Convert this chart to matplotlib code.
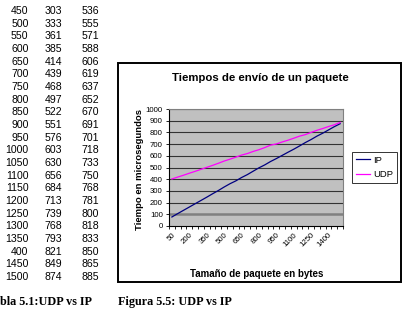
import numpy as np
import matplotlib.pyplot as plt
from matplotlib.patches import Rectangle

plt.rcParams['font.family'] = ['Liberation Sans', 'DejaVu Sans']

W, H = 407, 314

# chart data (packet size in bytes, time in microseconds)
sizes = [50, 100, 150, 200, 250, 300, 350, 400, 450, 500, 550, 600, 650, 700, 750,
         800, 850, 900, 950, 1000, 1050, 1100, 1150, 1200, 1250, 1300, 1350, 1400, 1450, 1500]
ip = [77, 106, 134, 162, 190, 218, 246, 275, 303, 333, 361, 385, 414, 439, 468,
      497, 522, 551, 576, 603, 630, 656, 684, 713, 739, 768, 793, 821, 849, 874]
udp = [402, 418, 434, 451, 467, 484, 501, 518, 536, 555, 571, 588, 606, 619, 637,
       652, 670, 691, 701, 718, 733, 750, 768, 781, 800, 818, 833, 850, 865, 885]

# visible part of the table (first column as printed)
table_sizes = ["450", "500", "550", "600", "650", "700", "750", "800", "850", "900", "950",
               "1000", "1050", "1100", "1150", "1200", "1250", "1300", "1350", "400", "1450", "1500"]
table_ip = ip[8:]
table_udp = udp[8:]


def px(x, y):
    # pixel position (from top-left) to figure fraction
    return x / W, 1 - y / H


fig = plt.figure(figsize=(W / 100, H / 100), dpi=100)

# table
row0, step = 11, 12.67
for i, (s, a, b) in enumerate(zip(table_sizes, table_ip, table_udp)):
    y = row0 + i * step
    for xr, txt in zip([28.5, 62, 99], [s, str(a), str(b)]):
        fig.text(*px(xr, y), txt, ha='right', va='center', fontsize=7.6)

# chart frame
fig.add_artist(Rectangle(px(118, 282), (401 - 118) / W, (282 - 63) / H,
                         transform=fig.transFigure, fill=False, ec='black', lw=1.4))

ax = fig.add_axes([169 / W, 1 - 226 / H, 174 / W, 117 / H])
ax.set_facecolor('#C0C0C0')
x = np.arange(len(sizes))
for v in range(100, 1001, 100):
    if v == 100:
        ax.axhline(v, color='#808080', lw=1.8, zorder=1)
    else:
        ax.axhline(v, color='#333333', lw=0.8, zorder=1)
ax.plot(x, ip, color='#000080', lw=0.9, label='IP', zorder=3)
ax.plot(x, udp, color='#FF00FF', lw=0.9, label='UDP', zorder=3)

ax.set_xlim(-0.5, len(sizes) - 0.5)
ax.set_ylim(0, 1000)
ax.set_yticks(range(0, 1001, 100))
ax.set_xticks(x[::3])
ax.set_xticklabels([str(s) for s in sizes[::3]], rotation=45, ha='right',
                   va='top', rotation_mode='anchor')
ax.set_xticks(np.arange(-0.5, len(sizes), 1), minor=True)
ax.tick_params(axis='x', which='major', length=0, labelsize=5.6, pad=4)
ax.tick_params(axis='x', which='minor', length=2.5, width=0.6)
ax.tick_params(axis='y', length=2.5, width=0.6, labelsize=5.6, pad=2)

for side in ['left', 'bottom']:
    ax.spines[side].set_color('black')
    ax.spines[side].set_linewidth(0.8)
for side in ['top', 'right']:
    ax.spines[side].set_color('#808080')
    ax.spines[side].set_linewidth(0.8)

fig.text(*px(260, 78), "Tiempos de envío de un paquete", ha='center', va='center',
         fontsize=8.2, fontweight='bold')
fig.text(*px(139, 169), "Tiempo en microsegundos", ha='center', va='center',
         rotation=90, fontsize=6.8, fontweight='bold')
fig.text(*px(257, 274), "Tamaño de paquete en bytes", ha='center', va='center',
         fontsize=7, fontweight='bold')

leg = fig.legend(loc='upper left', bbox_to_anchor=px(352, 152),
                 bbox_transform=fig.transFigure, frameon=True, fancybox=False,
                 edgecolor='black', fontsize=6.8, handlelength=1.5, borderpad=0.4,
                 labelspacing=0.6, handletextpad=0.35, borderaxespad=0)
leg.get_frame().set_linewidth(0.7)

# captions (the table caption is cut at the left edge of the page)
fig.text(*px(0, 302), "bla 5.1:UDP vs IP", ha='left', va='center',
         fontsize=8.7, fontweight='bold', family='Liberation Serif')
fig.text(*px(118, 302), "Figura 5.5: UDP vs IP", ha='left', va='center',
         fontsize=8.7, fontweight='bold', family='Liberation Serif')

fig.savefig('out.png', dpi=100)
